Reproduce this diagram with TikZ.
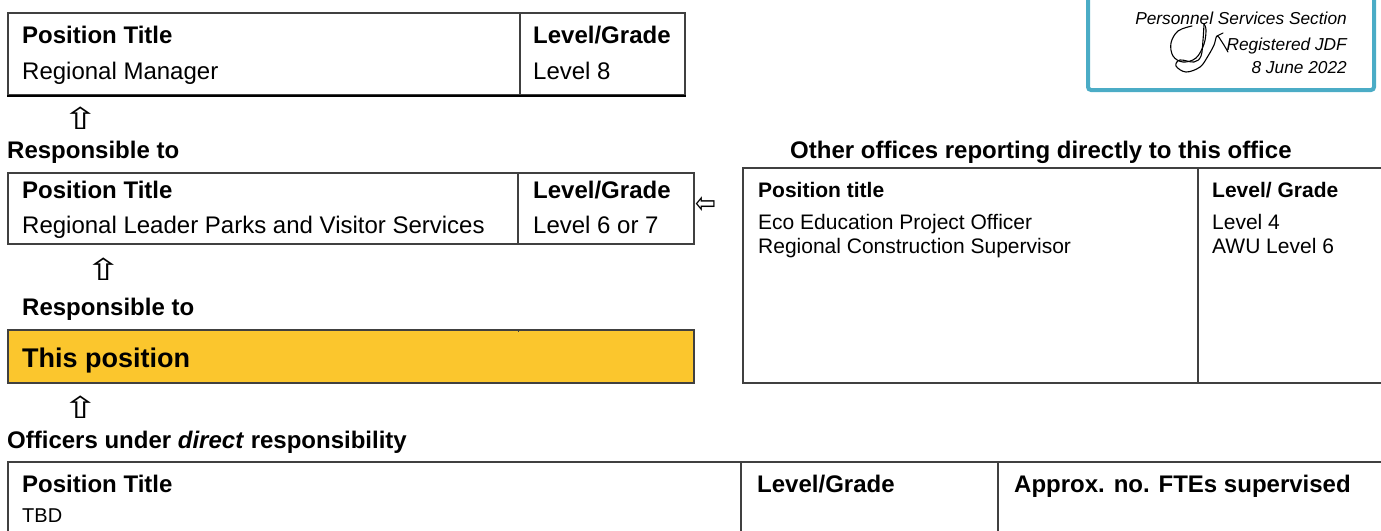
\documentclass[tikz,border=0pt]{standalone}
\usepackage{fontspec}
\setmainfont{Liberation Sans}
\newfontfamily\symfont{DejaVu Sans}
\definecolor{boxline}{RGB}{64,64,64}
\definecolor{stampblue}{RGB}{75,172,198}
\definecolor{thisyellow}{RGB}{251,198,45}
\tikzset{
  frame/.style={draw=boxline, line width=2pt, anchor=north west, inner sep=0pt},
  txt/.style={anchor=base west, inner sep=0pt, font=\fontsize{24}{28}\selectfont},
  btxt/.style={txt, font=\fontsize{24}{28}\selectfont\bfseries},
  stxt/.style={anchor=base west, inner sep=0pt, font=\fontsize{21}{25}\selectfont},
  sbtxt/.style={stxt, font=\fontsize{21}{25}\selectfont\bfseries},
  stamptxt/.style={anchor=base east, inner sep=0pt, font=\fontsize{17.3}{20}\selectfont\itshape},
  uparr/.style={inner sep=0pt, xscale=1.45, font=\fontsize{30}{30}\symfont},
  leftarr/.style={inner sep=0pt, yscale=1.2, font=\fontsize{25}{25}\symfont},
  divider/.style={draw=boxline, line width=2pt},
  sig/.style={line width=1.1pt, line cap=round, line join=round}
}
\begin{document}
\begin{tikzpicture}[x=1pt,y=-1pt]
\useasboundingbox (0,0) rectangle (1381,530);
% stamp
\node[draw=stampblue, line width=4pt, rounded corners=3pt, anchor=south west, minimum width=286pt, minimum height=110pt, inner sep=0pt] (stamp) at (1086,92) {};
\node[stamptxt] (st1) at (1347,24) {Personnel Services Section};
\node[stamptxt] (st2) at (1347,50) {Registered JDF};
\node[stamptxt] (st3) at (1347,73) {8 June 2022};
\draw[sig] plot[smooth, tension=0.6] coordinates {(1192,26) (1178,31) (1171,43) (1173,56) (1183,62) (1196,58) (1204,44) (1206,30) (1204,24)};
\draw[sig] plot[smooth, tension=0.6] coordinates {(1204,24) (1203,40) (1201,56) (1194,62) (1180,60) (1176,66) (1186,72) (1200,67) (1208,56) (1214,45) (1217,36) (1222,42) (1228,52)};
\draw[sig] (1217,36) -- (1223,33);
% box 1
\node[frame, minimum width=677pt, minimum height=82pt] (b1) at (7,12) {};
\draw[divider] (520,12) -- (520,94);
\draw[black, line width=2.5pt] (b1.south west) -- (b1.south east);
\node[btxt] (b1h) at (22,43) {Position Title};
\node[txt] (b1t) at (22,79) {Regional Manager};
\node[btxt] (b1lh) at (533,43) {Level/Grade};
\node[txt] (b1l) at (533,79) {Level 8};
\node[uparr] (a1) at (81,118) {⇧};
\node[btxt] (resp1) at (7,158) {Responsible to};
% box 2
\node[frame, minimum width=686pt, minimum height=71pt] (b2) at (7,172) {};
\draw[divider] (518,172) -- (518,243);
\node[btxt] (b2h) at (22,198) {Position Title};
\node[txt] (b2t) at (22,233) {Regional Leader Parks and Visitor Services};
\node[btxt] (b2lh) at (533,198) {Level/Grade};
\node[txt] (b2l) at (533,233) {Level 6 or 7};
\node[leftarr] (a2) at (706,205) {⇦};
\node[uparr] (a3) at (104,269) {⇧};
\node[btxt] (resp2) at (22,315) {Responsible to};
% this position
\node[frame, fill=thisyellow, minimum width=686pt, minimum height=53pt] (b3) at (7,329) {};
\draw[boxline, line width=1pt] (518,329) -- (518,332);
\node[anchor=base west, inner sep=0pt, font=\fontsize{27}{30}\selectfont\bfseries] (this) at (22,367) {This position};
% other offices
\node[btxt] (oth) at (790,158) {Other offices reporting directly to this office};
\node[frame, minimum width=660pt, minimum height=215pt] (b4) at (742,167) {};
\draw[divider] (1198,167) -- (1198,382);
\node[sbtxt] (b4h) at (758,197) {Position title};
\node[stxt] (b4t1) at (758,229.5) {Eco Education Project Officer};
\node[stxt] (b4t2) at (758,253.5) {Regional Construction Supervisor};
\node[sbtxt] (b4lh) at (1212,197) {Level/ Grade};
\node[stxt] (b4l1) at (1212,229.5) {Level 4};
\node[stxt] (b4l2) at (1212,253.5) {AWU Level 6};
% officers
\node[uparr] (a4) at (81,407) {⇧};
\node[btxt] (off) at (7,448) {Officers under \textit{direct} responsibility};
\node[frame, minimum width=1400pt, minimum height=100pt] (b5) at (7,461) {};
\draw[divider] (741,461) -- (741,540);
\draw[divider] (998,461) -- (998,540);
\node[btxt] (b5h) at (22,492) {Position Title};
\node[anchor=base west, inner sep=0pt, font=\fontsize{20}{24}\selectfont] (b5t) at (22,522) {TBD};
\node[btxt] (b5lh) at (757,492) {Level/Grade};
\node[btxt] (b5f) at (1014,492) {Approx. no. FTEs supervised};
\end{tikzpicture}
\end{document}
